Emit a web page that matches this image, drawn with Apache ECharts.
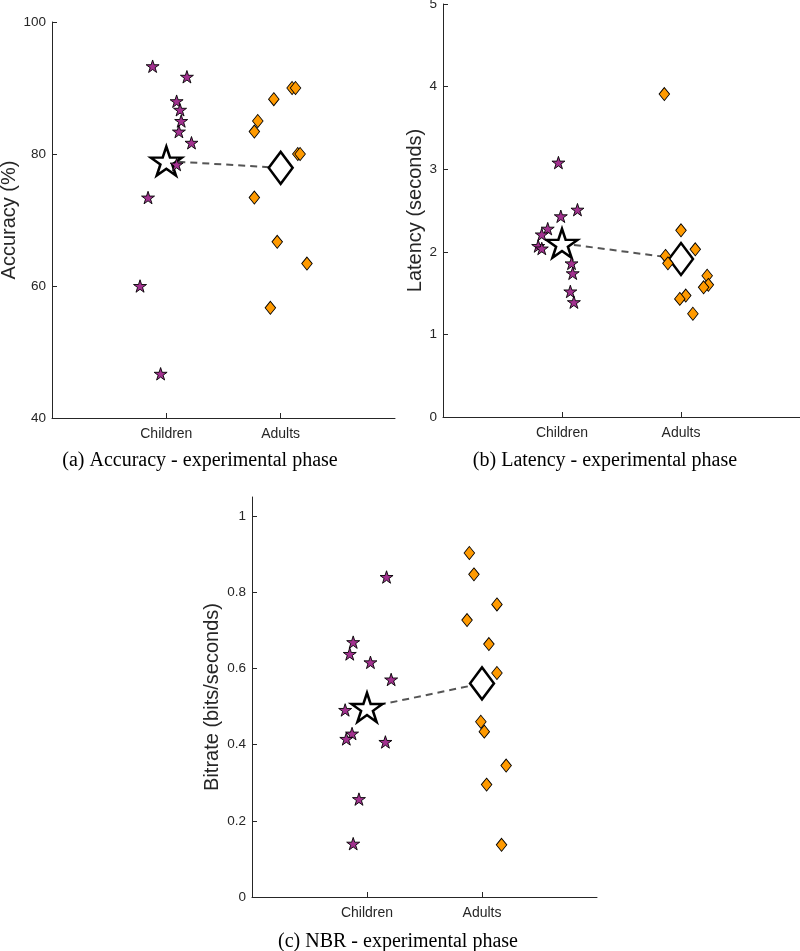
<!DOCTYPE html>
<html lang="en">
<head>
    <meta charset="UTF-8">
    <title>Experimental phase</title>
    <script src="https://cdn.jsdelivr.net/npm/echarts@6/dist/echarts.min.js"></script>
</head>
<style>
    html, body {
        margin: 0;
        height: 100%;
        background: #fff;
    }
</style>
<body>
<div id="main" style="width: 800px;height:951px"></div>
<script type="text/javascript">
    var groups = ['Children', 'Adults'];

    // (a) accuracy in %
    var accChildX = [0.88, 1.18, 1.09, 1.12, 1.13, 1.11, 1.22, 1.09, 0.84, 0.77, 0.95];
    var accChildY = [93.3, 91.7, 88.0, 86.7, 85.0, 83.4, 81.7, 78.4, 73.4, 60.0, 46.7];
    var accAdultX = [2.10, 2.13, 1.94, 1.80, 1.77, 2.15, 2.17, 1.77, 1.97, 2.23, 1.91];
    var accAdultY = [90.0, 90.0, 88.3, 85.0, 83.4, 80.0, 80.0, 73.4, 66.7, 63.4, 56.7];

    // (b) latency in seconds
    var latChildX = [0.97, 1.13, 0.99, 0.88, 0.83, 0.80, 0.83, 1.08, 1.09, 1.07, 1.10];
    var latChildY = [3.08, 2.51, 2.43, 2.28, 2.21, 2.07, 2.04, 1.86, 1.74, 1.52, 1.39];
    var latAdultX = [1.86, 2.00, 2.12, 1.87, 1.89, 2.22, 2.23, 2.19, 2.04, 1.99, 2.10];
    var latAdultY = [3.91, 2.26, 2.03, 1.95, 1.86, 1.71, 1.60, 1.57, 1.47, 1.43, 1.25];

    // (c) bitrate in bits/seconds
    var nbrChildX = [1.17, 0.88, 0.85, 1.03, 1.21, 0.81, 0.87, 0.82, 1.16, 0.93, 0.88];
    var nbrChildY = [0.840, 0.669, 0.638, 0.616, 0.571, 0.491, 0.429, 0.415, 0.407, 0.257, 0.140];
    var nbrAdultX = [1.89, 1.93, 2.13, 1.87, 2.06, 2.13, 1.99, 2.02, 2.21, 2.04, 2.17];
    var nbrAdultY = [0.903, 0.847, 0.768, 0.727, 0.664, 0.588, 0.460, 0.434, 0.345, 0.295, 0.137];

    var purple = '#a2318f';
    var orange = '#ff9a00';
    var axisColor = '#262626';
    var star = 'path://M50 0 L61.23 34.55 L97.55 34.55 L68.16 55.9 L79.39 90.45 L50 69.1 L20.61 90.45 L31.84 55.9 L2.45 34.55 L38.77 34.55 Z';

    function mean(a) {
        var s = 0;
        for (var i = 0; i < a.length; i++) s += a[i];
        return s / a.length;
    }

    function pairs(xs, ys) {
        return xs.map(function (x, i) { return [x, ys[i]]; });
    }

    function xAxisFor(idx) {
        return {
            type: 'value', gridIndex: idx, min: 0, max: 3,
            axisLine: {lineStyle: {color: axisColor, width: 1}},
            axisTick: {inside: true, length: 5, customValues: [1, 2], lineStyle: {color: axisColor}},
            axisLabel: {
                customValues: [1, 2], color: axisColor, fontSize: 14, margin: 9,
                fontFamily: 'Liberation Sans',
                formatter: function (v) { return groups[Math.round(v) - 1]; }
            },
            splitLine: {show: false}
        };
    }

    function yAxisFor(idx, name, min, max, ticks, gap) {
        return {
            type: 'value', gridIndex: idx, min: min, max: max,
            name: name, nameLocation: 'middle', nameGap: gap,
            nameTextStyle: {fontSize: 20, color: axisColor, fontFamily: 'Liberation Sans'},
            axisLine: {show: true, lineStyle: {color: axisColor, width: 1}},
            axisTick: {show: true, inside: true, length: 5, customValues: ticks, lineStyle: {color: axisColor}},
            axisLabel: {customValues: ticks, color: axisColor, fontSize: 13.5, margin: 6, fontFamily: 'Liberation Sans'},
            splitLine: {show: false}
        };
    }

    function panelSeries(idx, cx, cy, ax, ay) {
        var mc = mean(cy), ma = mean(ay);
        return [
            {
                type: 'line', xAxisIndex: idx, yAxisIndex: idx, z: 1,
                data: [[1, mc], [2, ma]], symbol: 'none',
                lineStyle: {color: '#555', width: 2, type: [7, 5]}, silent: true
            },
            {
                type: 'scatter', xAxisIndex: idx, yAxisIndex: idx, z: 2,
                data: [[1, mc]], symbol: star, symbolSize: [31, 29],
                itemStyle: {color: '#fff', borderColor: '#000', borderWidth: 2.5, opacity: 1}
            },
            {
                type: 'scatter', xAxisIndex: idx, yAxisIndex: idx, z: 2,
                data: [[2, ma]], symbol: 'diamond', symbolSize: [24, 32],
                itemStyle: {color: '#fff', borderColor: '#000', borderWidth: 2.5, opacity: 1}
            },
            {
                type: 'scatter', xAxisIndex: idx, yAxisIndex: idx, z: 3,
                data: pairs(cx, cy), symbol: star, symbolSize: [13, 12.5],
                itemStyle: {color: purple, borderColor: '#000', borderWidth: 0.9, opacity: 1}
            },
            {
                type: 'scatter', xAxisIndex: idx, yAxisIndex: idx, z: 3,
                data: pairs(ax, ay), symbol: 'diamond', symbolSize: [10.5, 13],
                itemStyle: {color: orange, borderColor: '#000', borderWidth: 0.9, opacity: 1}
            }
        ];
    }

    function caption(text, x, y) {
        return {
            type: 'text', x: x, y: y,
            style: {
                text: text, fill: '#000', fontSize: 20, fontFamily: 'Liberation Serif',
                align: 'center', verticalAlign: 'middle'
            }
        };
    }

    var myChart = echarts.init(document.getElementById('main'));
    var option = {
        animation: false,
        grid: [
            {left: 52, top: 22, width: 343, height: 396, outerBoundsMode: 'none'},
            {left: 443, top: 4, width: 357, height: 413, outerBoundsMode: 'none'},
            {left: 252, top: 497, width: 345, height: 400, outerBoundsMode: 'none'}
        ],
        xAxis: [xAxisFor(0), xAxisFor(1), xAxisFor(2)],
        yAxis: [
            yAxisFor(0, 'Accuracy (%)', 40, 100, [40, 60, 80, 100], 32),
            yAxisFor(1, 'Latency (seconds)', 0, 5, [0, 1, 2, 3, 4, 5], 18),
            yAxisFor(2, 'Bitrate (bits/seconds)', 0, 1.05, [0, 0.2, 0.4, 0.6, 0.8, 1], 30)
        ],
        series: []
            .concat(panelSeries(0, accChildX, accChildY, accAdultX, accAdultY))
            .concat(panelSeries(1, latChildX, latChildY, latAdultX, latAdultY))
            .concat(panelSeries(2, nbrChildX, nbrChildY, nbrAdultX, nbrAdultY)),
        graphic: [
            caption('(a) Accuracy - experimental phase', 200, 461),
            caption('(b) Latency - experimental phase', 605, 461),
            caption('(c) NBR - experimental phase', 398, 942)
        ]
    };
    myChart.setOption(option);
</script>
</body>
</html>
